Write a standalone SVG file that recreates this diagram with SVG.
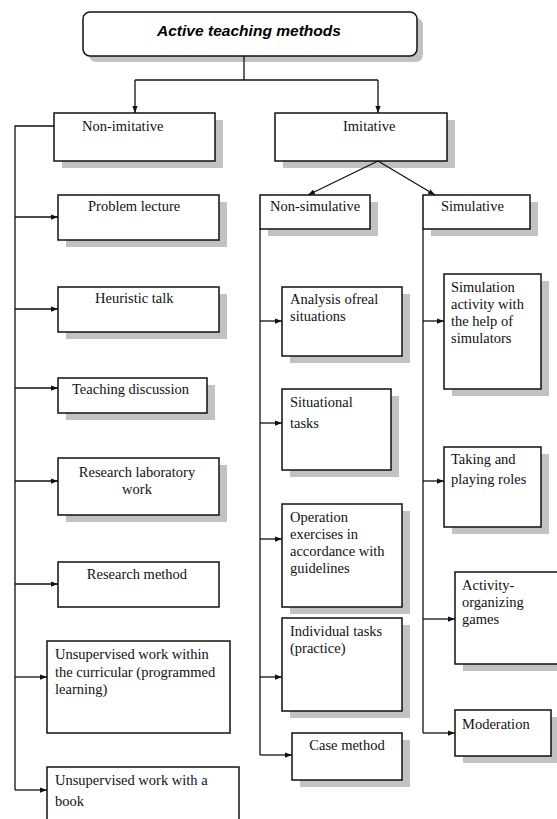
<svg xmlns="http://www.w3.org/2000/svg" width="557" height="819" viewBox="0 0 557 819">
<style>
.bx{fill:#fff;stroke:#111;stroke-width:1.5}
.sh{fill:#c2c2c2}
.ln{fill:none;stroke:#111;stroke-width:1.3}
.t{font-family:"Liberation Serif","Times New Roman",serif;font-size:14.5px;fill:#111}
.c{text-anchor:middle}
.ti{font-family:"Liberation Sans",Arial,sans-serif;font-size:15px;font-weight:bold;font-style:italic;fill:#000}
</style>
<defs>
<marker id="ar" viewBox="0 0 8 6" refX="8" refY="3" markerWidth="7" markerHeight="5.5" markerUnits="userSpaceOnUse" orient="auto">
<path d="M0,0 L8,3 L0,6 Z" fill="#111"/>
</marker>
</defs>
<rect width="557" height="819" fill="#fff"/>

<g id="title">
<rect class="sh" x="89" y="18" width="334" height="44" rx="7"/>
<rect class="bx" x="83" y="12" width="334" height="44" rx="7"/>
<text class="ti" x="249" y="36" text-anchor="middle" textLength="184" lengthAdjust="spacingAndGlyphs">Active teaching methods</text>
</g>

<g id="non-imitative">
<rect class="sh" x="62" y="120" width="161" height="48"/>
<rect class="bx" x="54" y="113" width="161" height="48"/>
<text class="t" x="82" y="131">Non-imitative</text>
</g>
<g id="imitative">
<rect class="sh" x="283" y="120" width="172" height="48"/>
<rect class="bx" x="275" y="113" width="172" height="48"/>
<text class="t" x="343" y="131">Imitative</text>
</g>

<g id="problem-lecture">
<rect class="sh" x="66" y="202" width="161" height="45"/>
<rect class="bx" x="58" y="195" width="161" height="45"/>
<text class="t" x="88" y="211">Problem lecture</text>
</g>
<g id="heuristic-talk">
<rect class="sh" x="66" y="294" width="161" height="45"/>
<rect class="bx" x="58" y="287" width="161" height="45"/>
<text class="t" x="95" y="303">Heuristic talk</text>
</g>
<g id="teaching-discussion">
<rect class="sh" x="66" y="385" width="149" height="35"/>
<rect class="bx" x="58" y="378" width="149" height="35"/>
<text class="t" x="72" y="394">Teaching discussion</text>
</g>
<g id="research-lab">
<rect class="sh" x="66" y="465" width="161" height="57"/>
<rect class="bx" x="58" y="458" width="161" height="57"/>
<text class="t c" x="137" y="477">Research laboratory</text>
<text class="t c" x="137" y="494">work</text>
</g>
<g id="research-method">
<rect class="bx" x="58" y="562" width="161" height="45"/>
<text class="t c" x="137" y="579">Research method</text>
</g>
<g id="unsupervised-curricular">
<rect class="bx" x="47" y="641" width="183" height="92"/>
<text class="t" x="55" y="659">Unsupervised work within</text>
<text class="t" x="55" y="677">the curricular (programmed</text>
<text class="t" x="55" y="694">learning)</text>
</g>
<g id="unsupervised-book">
<rect class="bx" x="47" y="767" width="192" height="60"/>
<text class="t" x="55" y="785">Unsupervised work with a</text>
<text class="t" x="55" y="806">book</text>
</g>

<g id="non-simulative">
<rect class="sh" x="268" y="202" width="110" height="34"/>
<rect class="bx" x="260" y="195" width="110" height="34"/>
<text class="t" x="270" y="211">Non-simulative</text>
</g>
<g id="simulative">
<rect class="sh" x="431" y="202" width="107" height="34"/>
<rect class="bx" x="423" y="195" width="107" height="34"/>
<text class="t" x="441" y="211">Simulative</text>
</g>

<g id="analysis">
<rect class="sh" x="290" y="294" width="120" height="69"/>
<rect class="bx" x="282" y="287" width="120" height="69"/>
<text class="t" x="290" y="304">Analysis ofreal</text>
<text class="t" x="290" y="321">situations</text>
</g>
<g id="situational">
<rect class="sh" x="290" y="396" width="109" height="81"/>
<rect class="bx" x="282" y="389" width="109" height="81"/>
<text class="t" x="290" y="407">Situational</text>
<text class="t" x="290" y="428">tasks</text>
</g>
<g id="operation">
<rect class="sh" x="290" y="511" width="120" height="103"/>
<rect class="bx" x="282" y="504" width="120" height="103"/>
<text class="t" x="290" y="522">Operation</text>
<text class="t" x="290" y="539">exercises in</text>
<text class="t" x="290" y="556">accordance with</text>
<text class="t" x="290" y="573">guidelines</text>
</g>
<g id="individual">
<rect class="sh" x="290" y="625" width="120" height="93"/>
<rect class="bx" x="282" y="618" width="120" height="93"/>
<text class="t" x="290" y="636">Individual tasks</text>
<text class="t" x="290" y="653">(practice)</text>
</g>
<g id="case-method">
<rect class="sh" x="300" y="740" width="110" height="47"/>
<rect class="bx" x="292" y="733" width="110" height="47"/>
<text class="t c" x="347" y="750">Case method</text>
</g>

<g id="simulation-activity">
<rect class="sh" x="452" y="281" width="97" height="115"/>
<rect class="bx" x="444" y="274" width="97" height="115"/>
<text class="t" x="451" y="292">Simulation</text>
<text class="t" x="451" y="309">activity with</text>
<text class="t" x="451" y="326">the help of</text>
<text class="t" x="451" y="343">simulators</text>
</g>
<g id="taking-roles">
<rect class="sh" x="452" y="454" width="97" height="80"/>
<rect class="bx" x="444" y="447" width="97" height="80"/>
<text class="t" x="451" y="464">Taking and</text>
<text class="t" x="451" y="484">playing roles</text>
</g>
<g id="activity-games">
<rect class="sh" x="463" y="579" width="110" height="92"/>
<rect class="bx" x="455" y="572" width="110" height="92"/>
<text class="t" x="462" y="590">Activity-</text>
<text class="t" x="462" y="607">organizing</text>
<text class="t" x="462" y="624">games</text>
</g>
<g id="moderation">
<rect class="sh" x="463" y="717" width="96" height="46"/>
<rect class="bx" x="455" y="710" width="96" height="46"/>
<text class="t" x="462" y="729">Moderation</text>
</g>

<g id="connectors">
<path class="ln" d="M244,56 V80 M135,80 H378"/>
<path class="ln" d="M135,80 V113" marker-end="url(#ar)"/>
<path class="ln" d="M378,80 V113" marker-end="url(#ar)"/>
<path class="ln" d="M378,161 L308,195" marker-end="url(#ar)"/>
<path class="ln" d="M378,161 L435,195" marker-end="url(#ar)"/>
<path class="ln" d="M54,126 H15 V790"/>
<path class="ln" d="M15,217 H58" marker-end="url(#ar)"/>
<path class="ln" d="M15,309 H58" marker-end="url(#ar)"/>
<path class="ln" d="M15,388 H58" marker-end="url(#ar)"/>
<path class="ln" d="M15,481 H58" marker-end="url(#ar)"/>
<path class="ln" d="M15,584 H58" marker-end="url(#ar)"/>
<path class="ln" d="M15,677 H47" marker-end="url(#ar)"/>
<path class="ln" d="M15,790 H47" marker-end="url(#ar)"/>
<path class="ln" d="M260,229 V755"/>
<path class="ln" d="M260,321 H282" marker-end="url(#ar)"/>
<path class="ln" d="M260,423 H282" marker-end="url(#ar)"/>
<path class="ln" d="M260,539 H282" marker-end="url(#ar)"/>
<path class="ln" d="M260,677 H282" marker-end="url(#ar)"/>
<path class="ln" d="M260,755 H292" marker-end="url(#ar)"/>
<path class="ln" d="M423,229 V733"/>
<path class="ln" d="M423,321 H444" marker-end="url(#ar)"/>
<path class="ln" d="M423,481 H444" marker-end="url(#ar)"/>
<path class="ln" d="M423,619 H455" marker-end="url(#ar)"/>
<path class="ln" d="M423,733 H455" marker-end="url(#ar)"/>
</g>
</svg>
